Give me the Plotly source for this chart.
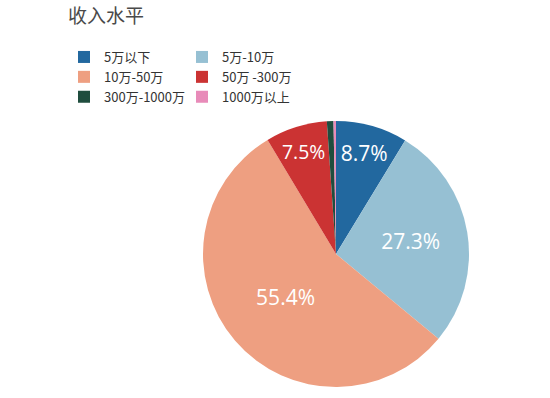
import plotly.graph_objects as go

categories = ["5万以下", "5万-10万", "10万-50万", "50万 -300万", "300万-1000万", "1000万以上"]
values = [8.7, 27.3, 55.4, 7.5, 0.8, 0.3]
colors = ["#22689f", "#96c0d3", "#ee9f81", "#cb3333", "#1f4d3e", "#e88bb9"]
show_label = [True, True, True, True, False, False]

W, H = 550, 398
ml, mr = 190, 70
gw = W - ml - mr
cx, cy, R = 336, 254, 133

texttemplates = ["%{percent:.1%}" if s else "" for s in show_label]

fig = go.Figure(go.Pie(
    labels=categories,
    values=values,
    sort=False,
    direction="clockwise",
    rotation=0,
    marker=dict(colors=colors, line=dict(width=0)),
    texttemplate=texttemplates,
    textposition="inside",
    insidetextorientation="horizontal",
    textfont=dict(family="Open Sans", size=21, color="white"),
    hoverinfo="label+percent",
    domain=dict(
        x=[(cx - R - ml) / gw, (cx + R - ml) / gw],
        y=[(H - (cy + R)) / H, (H - (cy - R)) / H],
    ),
))

fig.update_layout(
    width=W, height=H,
    margin=dict(l=ml, r=mr, t=0, b=0),
    paper_bgcolor="white",
    plot_bgcolor="white",
    title=dict(
        text="收入水平",
        xref="container", yref="container",
        x=68 / W, xanchor="left",
        y=1 - 16 / H, yanchor="middle",
        font=dict(family="Noto Sans CJK SC", size=19, color="#4a4a4a"),
    ),
    legend=dict(
        orientation="h",
        xref="paper", yref="paper",
        x=(70 - ml) / gw, xanchor="left",
        y=1 - 42 / H, yanchor="top",
        entrywidth=79,
        indentation=-6,
        font=dict(family="Noto Sans CJK SC", size=13, color="#333333"),
        traceorder="normal",
    ),
    showlegend=True,
)

fig.write_html("out.html")
